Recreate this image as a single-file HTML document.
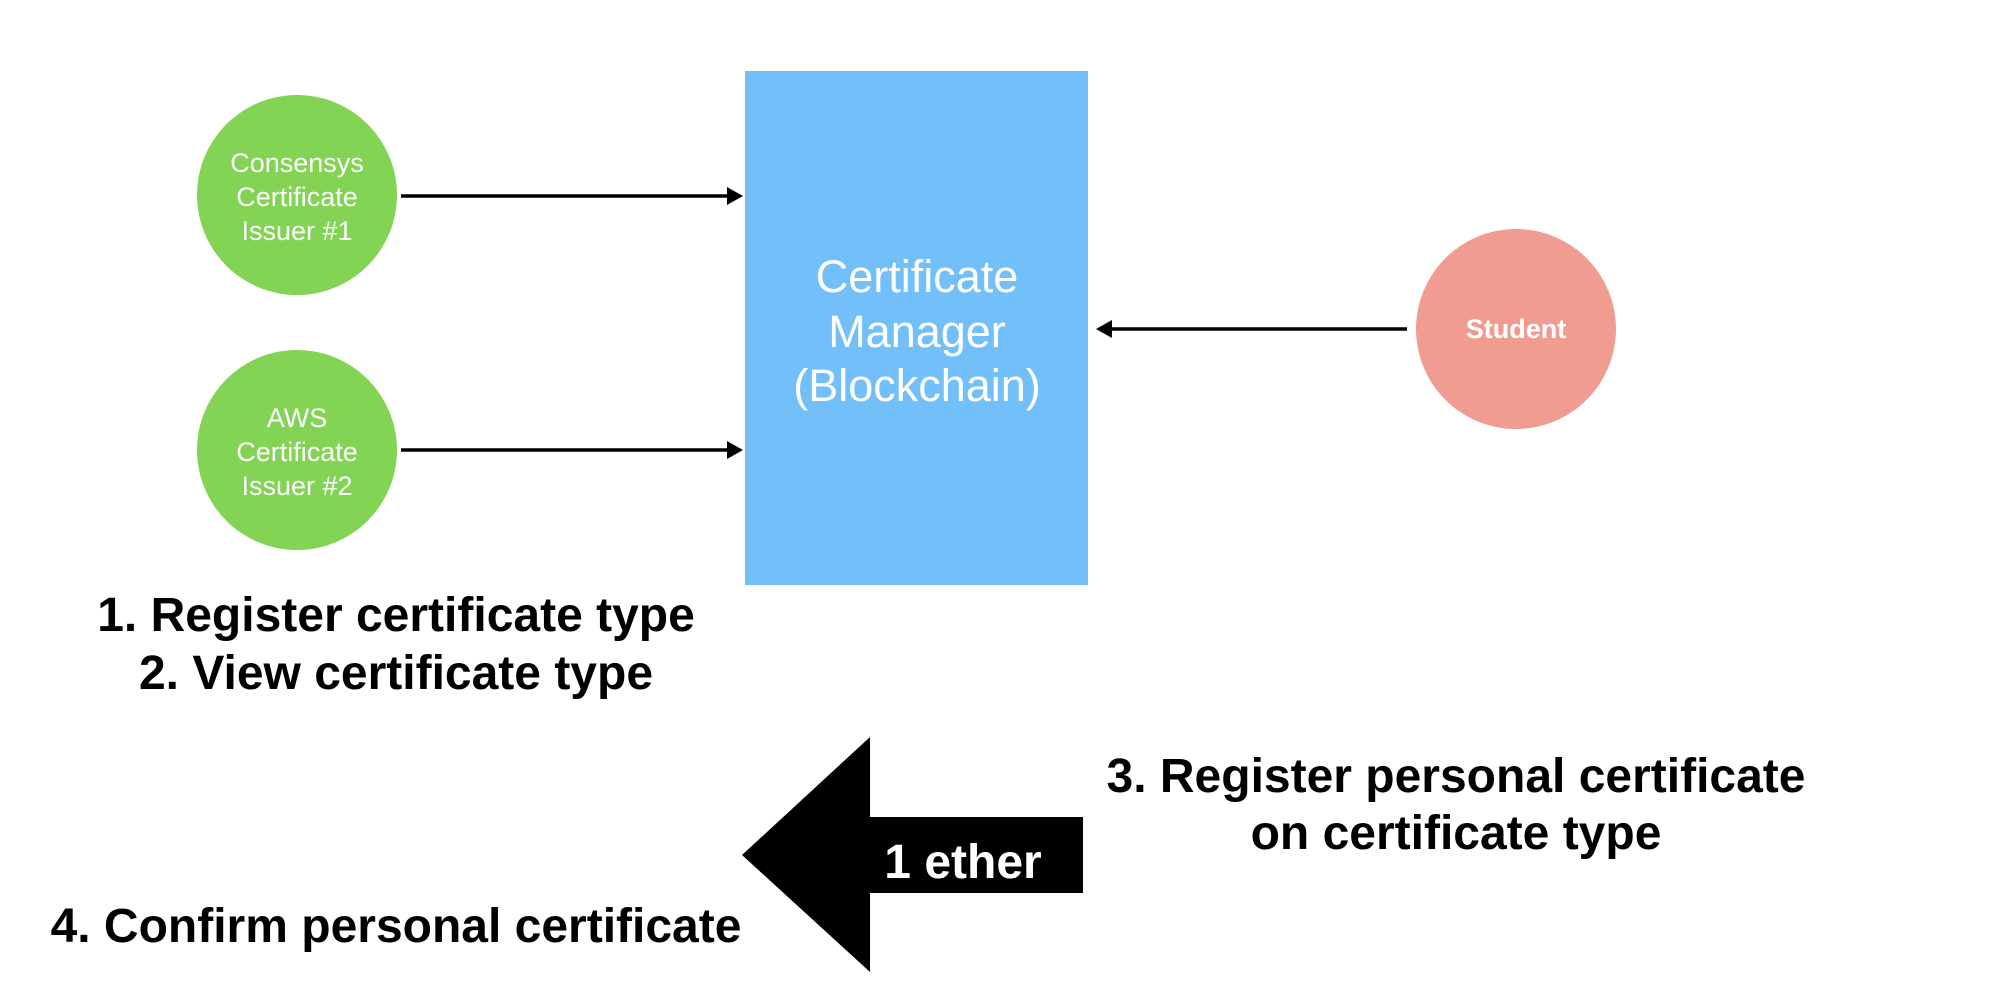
<!DOCTYPE html>
<html><head><meta charset="utf-8"><style>html,body{margin:0;padding:0;background:#fff}svg{display:block}</style></head>
<body>
<svg width="2004" height="1002" viewBox="0 0 2004 1002" xmlns="http://www.w3.org/2000/svg" font-family="Liberation Sans, Arial, sans-serif">
<rect x="745" y="71" width="343" height="514" fill="#72bff9"/>
<g fill="#fff" font-size="45" text-anchor="middle">
<text x="917" y="292">Certificate</text>
<text x="917" y="347">Manager</text>
<text x="917" y="401">(Blockchain)</text>
</g>
<circle cx="297" cy="195" r="100" fill="#83d354"/>
<circle cx="297" cy="450" r="100" fill="#83d354"/>
<circle cx="1516" cy="329" r="100" fill="#f19c91"/>
<g fill="#fff" font-size="27" text-anchor="middle">
<text x="297" y="172">Consensys</text>
<text x="297" y="206">Certificate</text>
<text x="297" y="240">Issuer #1</text>
<text x="297" y="427">AWS</text>
<text x="297" y="461">Certificate</text>
<text x="297" y="495">Issuer #2</text>
<text x="1516" y="338" font-weight="bold">Student</text>
</g>
<g stroke="#000" stroke-width="3.5">
<line x1="401" y1="196" x2="730" y2="196"/>
<line x1="401" y1="450" x2="730" y2="450"/>
<line x1="1407" y1="329" x2="1110" y2="329"/>
</g>
<polygon points="743,196 727,187 727,205" fill="#000"/>
<polygon points="743,450 727,441 727,459" fill="#000"/>
<polygon points="1096,329 1112,320 1112,338" fill="#000"/>
<polygon points="742,855 870,737 870,817 1083,817 1083,893 870,893 870,972" fill="#000"/>
<text x="963" y="878" fill="#fff" font-size="48" font-weight="bold" text-anchor="middle">1 ether</text>
<g fill="#000" font-size="48" font-weight="bold" text-anchor="middle">
<text x="396" y="631">1. Register certificate type</text>
<text x="396" y="689">2. View certificate type</text>
<text x="1456" y="792">3. Register personal certificate</text>
<text x="1456" y="849">on certificate type</text>
<text x="396" y="942">4. Confirm personal certificate</text>
</g>
</svg>
</body></html>
